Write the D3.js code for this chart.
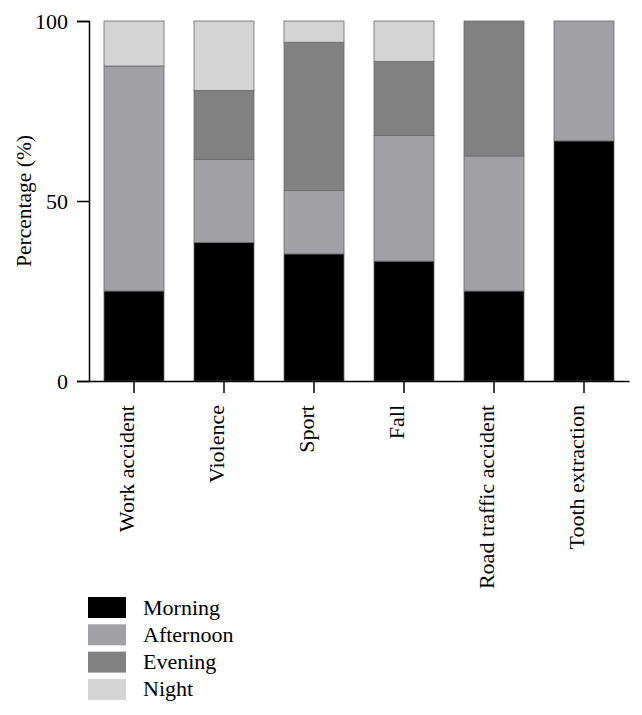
<!DOCTYPE html>
<html>
<head>
<meta charset="utf-8">
<script src="https://cdn.jsdelivr.net/npm/d3@7"></script>
<style>
  html, body { margin: 0; padding: 0; background: #fff; }
  svg { display: block; }
  text { font-family: "Liberation Serif", "DejaVu Serif", serif; fill: #000; }
</style>
</head>
<body>
<svg id="chart" width="642" height="715"></svg>
<script>
const categories = ["Work accident", "Violence", "Sport", "Fall", "Road traffic accident", "Tooth extraction"];
const seriesNames = ["Morning", "Afternoon", "Evening", "Night"];
const morning   = [25.0, 38.5, 35.3, 33.3, 25.0, 66.7];
const afternoon = [62.5, 23.0, 17.6, 34.9, 37.5, 33.3];
const evening   = [0.0, 19.2, 41.2, 20.6, 37.5, 0.0];
const night     = [12.5, 19.3, 5.9, 11.2, 0.0, 0.0];
const yTicks = [0, 50, 100];
const colors = ["#000000", "#a1a1a5", "#818181", "#d4d4d4"];

const rows = categories.map((c, i) => ({
  category: c, Morning: morning[i], Afternoon: afternoon[i], Evening: evening[i], Night: night[i]
}));
const stacked = d3.stack().keys(seriesNames)(rows);

const svg = d3.select("#chart");
const mLeft = 89, mRight = 629, mTop = 21, mBottom = 381;
const fs = "22px";

const x = d3.scaleBand().domain(categories).range([mLeft, mRight]).paddingInner(1/3).paddingOuter(1/6);
const y = d3.scaleLinear().domain([0, 100]).range([mBottom, mTop]);
const color = d3.scaleOrdinal().domain(seriesNames).range(colors);

// bars
svg.append("g").selectAll("g").data(stacked).join("g")
  .attr("fill", d => color(d.key))
  .selectAll("rect").data(d => d.filter(s => s[1] - s[0] > 0)).join("rect")
  .attr("x", d => x(d.data.category))
  .attr("width", x.bandwidth())
  .attr("y", d => y(d[1]))
  .attr("height", d => y(d[0]) - y(d[1]))
  .attr("stroke", "#6a6a6a")
  .attr("stroke-width", 0.8);

// y axis
const yAxis = svg.append("g").attr("transform", `translate(${mLeft},0)`)
  .call(d3.axisLeft(y).tickValues(yTicks).tickSize(12).tickPadding(9));
yAxis.select(".domain").attr("stroke", "#000").attr("stroke-width", 1.5);
yAxis.selectAll(".tick line").attr("stroke", "#000").attr("stroke-width", 1.5);
yAxis.selectAll(".tick text").style("font-family", "Liberation Serif").style("font-size", fs).attr("fill", "#000");

// x axis
const xAxis = svg.append("g").attr("transform", `translate(0,${mBottom})`)
  .call(d3.axisBottom(x).tickSize(12).tickSizeOuter(0));
xAxis.select(".domain").attr("stroke", "#000").attr("stroke-width", 1.5);
xAxis.selectAll(".tick line").attr("stroke", "#000").attr("stroke-width", 1.5);
xAxis.selectAll(".tick text")
  .style("font-family", "Liberation Serif").style("font-size", fs).attr("fill", "#000")
  .attr("text-anchor", "end")
  .attr("transform", "translate(0,24) rotate(-90)")
  .attr("x", 0).attr("y", 0).attr("dy", "0em");

// y label
svg.append("text")
  .attr("transform", `translate(31,${(mTop + mBottom) / 2}) rotate(-90)`)
  .attr("text-anchor", "middle")
  .style("font-size", "21.5px")
  .text("Percentage (%)");

// legend
const legend = svg.append("g").attr("transform", "translate(88,597)");
const lg = legend.selectAll("g").data(seriesNames).join("g")
  .attr("transform", (d, i) => `translate(0,${i * 27.3})`);
lg.append("rect").attr("width", 38).attr("height", 21).attr("fill", d => color(d));
lg.append("text").attr("x", 55).attr("y", 17.5).style("font-size", fs).text(d => d);
</script>
</body>
</html>
